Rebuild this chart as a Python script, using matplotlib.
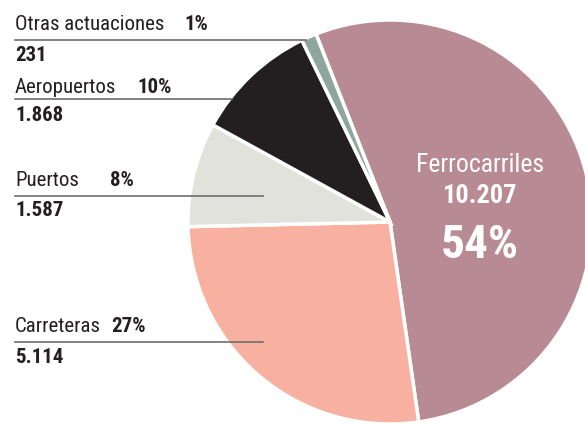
import matplotlib
matplotlib.use('Agg')
import matplotlib.pyplot as plt
from matplotlib import font_manager

# data
categorias = ['Ferrocarriles', 'Carreteras', 'Puertos', 'Aeropuertos', 'Otras actuaciones']
importes = [10207, 5114, 1587, 1868, 231]
importes_txt = ['10.207', '5.114', '1.587', '1.868', '231']
porcentajes = ['54%', '27%', '8%', '10%', '1%']
colores = ['#b88a94', '#f8b1a0', '#e2e2dd', '#231f20', '#8ea79e']

# narrowest font available
names = {f.name for f in font_manager.fontManager.ttflist}
fam = 'DejaVu Sans'
for cand in ['Roboto Condensed', 'Liberation Sans Narrow', 'Roboto']:
    if cand in names:
        fam = cand
        break

W, H = 585, 424
fig = plt.figure(figsize=(W / 100, H / 100), dpi=100)
ax = fig.add_axes([0, 0, 1, 1])

def Y(y):
    return H - y

ax.pie(importes, colors=colores, startangle=111.5, counterclock=False,
       center=(390, Y(222)), radius=202, explode=[0.022, 0, 0, 0, 0],
       wedgeprops=dict(edgecolor='white', linewidth=2.5), frame=True)
ax.set_xlim(0, W)
ax.set_ylim(0, H)
ax.set_aspect('equal')
ax.axis('off')

txt = dict(family=fam, color='#231f20', va='baseline')

# left labels: (category index, label baseline, line y, value baseline, pct x, line end x)
etiquetas = [
    (4, 30, 39.5, 61, 184, 306),
    (3, 93, 98.5, 121, 137, 232),
    (2, 186, 195.5, 216, 110, 263),
    (1, 332, 342, 363, 111, 263),
]
for i, yb, yl, yv, xp, xe in etiquetas:
    ax.text(15, Y(yb), categorias[i], fontsize=15, **txt)
    ax.text(xp, Y(yb), porcentajes[i], fontsize=15, fontweight='bold', **txt)
    ax.plot([15, xe], [Y(yl), Y(yl)], color='#6e6e6e', lw=1.2, zorder=5)
    ax.text(15, Y(yv), importes_txt[i], fontsize=15, fontweight='bold', **txt)

# big slice label
ctr = dict(family=fam, color='white', ha='center', va='baseline')
ax.text(480, Y(172), categorias[0], fontsize=18.5, **ctr)
ax.text(480, Y(203), importes_txt[0], fontsize=19, fontweight='bold', **ctr)
ax.text(480, Y(258), porcentajes[0], fontsize=34, fontweight='bold', **ctr)

fig.savefig('out.png', dpi=100)
